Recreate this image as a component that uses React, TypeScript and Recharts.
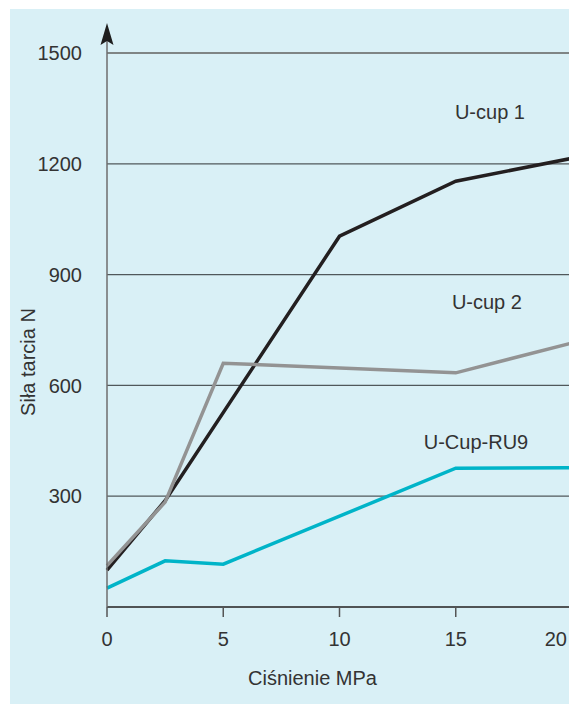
import { LineChart, Line, XAxis, YAxis, CartesianGrid, ReferenceLine, ReferenceDot } from "recharts";

const pressure1 = [0, 2.5, 10, 15, 20];
const ucup1 = [100, 288, 1004, 1153, 1215];
const pressure2 = [0, 2.5, 5, 15, 20];
const ucup2 = [112, 284, 660, 634, 715];
const pressure3 = [0, 2.5, 5, 15, 20];
const ucupRu9 = [51, 125, 116, 376, 377];
const xTicks = [0, 5, 10, 15, 20];
const yTicks = [300, 600, 900, 1200, 1500];

const toRows = (xs: number[], ys: number[]) => xs.map((x, i) => ({ x, y: ys[i] }));

const font = "'Liberation Sans Narrow', 'Arial Narrow', 'Liberation Sans', sans-serif";
const textColor = "#333";
const fontSize = 20;

const Arrow = ({ cx, cy }: { cx?: number; cy?: number }) => {
  if (cx == null || cy == null) return null;
  return <path d={`M${cx},${cy} L${cx - 6.5},${cy + 22} L${cx},${cy + 18} L${cx + 6.5},${cy + 22} Z`} fill="#1e1e1e" />;
};

const XTick = ({ x, y, payload }: any) => {
  const last = payload.value === xTicks[xTicks.length - 1];
  return (
    <text x={last ? x - 2 : x} y={y} dy="0.71em" textAnchor={last ? "end" : "middle"} fill={textColor} fontSize={fontSize} fontFamily={font}>
      {payload.value}
    </text>
  );
};

const note = (text: string) => ({ value: text, position: "center" as const, fill: textColor, fontSize, fontFamily: font });

export default function App() {
  return (
    <div style={{ marginLeft: 2, marginTop: 1, width: 567, height: 695, background: "#d9f0f6" }}>
      <LineChart width={567} height={695} margin={{ top: 44, right: 5, bottom: 67, left: 0 }}>
        <CartesianGrid vertical={false} horizontal stroke="#50585b" strokeWidth={1.2} />
        <XAxis
          type="number"
          dataKey="x"
          domain={[0, 20]}
          ticks={xTicks}
          height={30}
          axisLine={{ stroke: "#3a3a3a", strokeWidth: 1.5 }}
          tickLine={{ stroke: "#555", strokeWidth: 1.5 }}
          tickSize={10}
          tickMargin={15}
          tick={<XTick />}
          label={{
            content: ({ viewBox }: any) => (
              <text x={viewBox.x + viewBox.width / 2 - 27} y={viewBox.y + 78} textAnchor="middle" fill={textColor} fontSize={fontSize} fontFamily={font}>
                Ciśnienie MPa
              </text>
            ),
          }}
        />
        <YAxis
          type="number"
          domain={[0, 1500]}
          ticks={yTicks}
          width={97}
          axisLine={{ stroke: "#6e6e6e", strokeWidth: 1.5 }}
          tickLine={false}
          tickSize={0}
          tickMargin={25}
          tick={{ fill: textColor, fontSize, fontFamily: font }}
          label={{
            content: ({ viewBox }: any) => {
              const x = viewBox.x + 25;
              const y = viewBox.y + viewBox.height / 2 + 32;
              return (
                <text x={x} y={y} transform={`rotate(-90 ${x} ${y})`} textAnchor="middle" fill={textColor} fontSize={fontSize} fontFamily={font}>
                  Siła tarcia N
                </text>
              );
            },
          }}
        />
        <ReferenceLine y={1500} stroke="#7f8585" strokeWidth={2} />
        <ReferenceLine x={20} stroke="#7f8585" strokeWidth={2} />
        <ReferenceLine segment={[{ x: 0, y: 1500 }, { x: 0, y: 1545 }]} stroke="#6e6e6e" strokeWidth={1.5} ifOverflow="visible" />
        <ReferenceDot x={0} y={1581} r={0} ifOverflow="visible" shape={(p: any) => <Arrow cx={p.cx} cy={p.cy} />} />
        <Line data={toRows(pressure1, ucup1)} dataKey="y" stroke="#231f20" strokeWidth={3.5} dot={false} isAnimationActive={false} />
        <Line data={toRows(pressure2, ucup2)} dataKey="y" stroke="#939393" strokeWidth={3.5} dot={false} isAnimationActive={false} />
        <Line data={toRows(pressure3, ucupRu9)} dataKey="y" stroke="#00b4c8" strokeWidth={3.5} dot={false} isAnimationActive={false} />
        <ReferenceDot x={16.47} y={1340} r={0} label={note("U-cup 1")} />
        <ReferenceDot x={16.34} y={826} r={0} label={note("U-cup 2")} />
        <ReferenceDot x={15.87} y={447} r={0} label={note("U-Cup-RU9")} />
      </LineChart>
    </div>
  );
}
